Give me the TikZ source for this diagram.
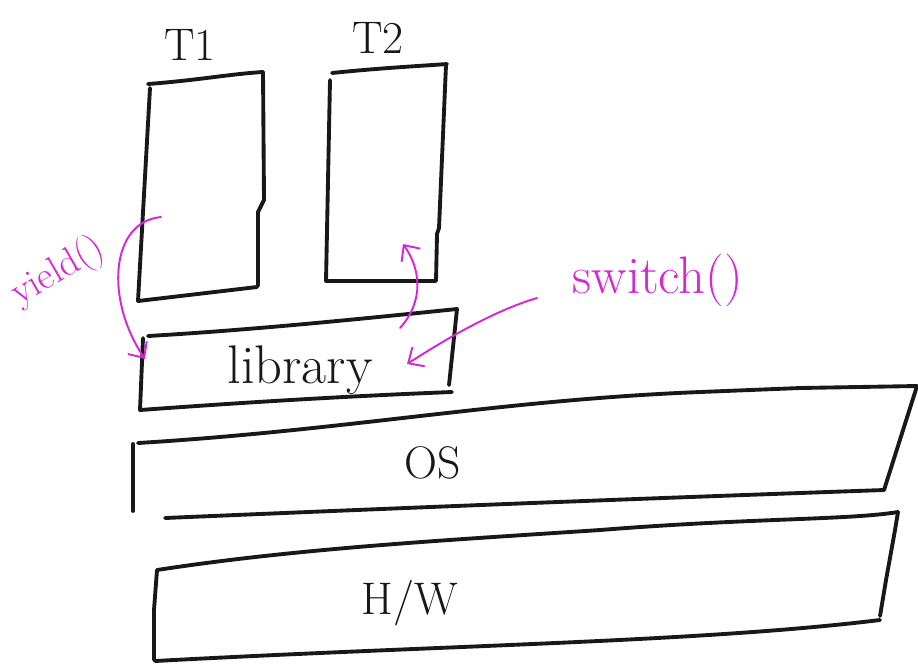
\documentclass[tikz,border=0pt]{standalone}
\usetikzlibrary{arrows.meta}
\definecolor{pen}{RGB}{24,24,24}
\definecolor{mag}{RGB}{214,38,214}
\begin{document}
\begin{tikzpicture}[x=0.02cm,y=-0.02cm,
  ink/.style={draw=pen,line width=2.2pt,line cap=round,line join=round},
  mk/.style={draw=mag,line width=1.1pt,line cap=round,line join=round,
    -{Straight Barb[length=7pt,width=13pt,line width=1.1pt]}},
  lbl/.style={text=pen,inner sep=0pt,font=\fontsize{26}{30}\selectfont},
  mlbl/.style={text=mag,inner sep=0pt}]
\useasboundingbox (0,0) rectangle (918,664);
% T1
\draw[ink] (148,84) .. controls (200,80) and (230,74) .. (263,72);
\draw[ink] (150,88) -- (138,301) -- (257,287);
\draw[ink] (263,72) -- (264,200) -- (258,212) -- (258,286);
% T2
\draw[ink] (332,73) .. controls (380,68) and (420,66) .. (447,64);
\draw[ink] (330,80) -- (326,281) -- (436,281) -- (437,234) -- (439,228) -- (446,65);
% library
\draw[ink] (148,336) .. controls (250,330) and (350,320) .. (457,309) -- (449,385);
\draw[ink] (143,338) -- (140,410) .. controls (250,402) and (350,396) .. (452,392);
% OS
\draw[ink] (138,443) .. controls (350,430) and (500,400) .. (700,392) -- (800,388) -- (917,386) -- (884,490);
\draw[ink] (884,490) .. controls (600,500) and (400,508) .. (165,518);
\draw[ink] (133,444) -- (133,511);
% H/W
\draw[ink] (157,570) .. controls (300,548) and (450,540) .. (600,530) .. controls (750,518) and (850,520) .. (898,512);
\draw[ink] (898,512) -- (895,530) -- (886,580) -- (880,616);
\draw[ink] (880,620) .. controls (700,642) and (450,645) .. (155,661);
\draw[ink] (157,570) -- (154,610) -- (154,660);
% labels
\node[lbl] (t1) at (190,45) {T1};
\node[lbl] (t2) at (378,38) {T2};
\node[lbl,font=\fontsize{31}{34}\selectfont] (lib) at (300,370) {library};
\node[lbl] (os) at (433,463) {OS};
\node[lbl] (hw) at (410,603) {H/W};
\node[mlbl,font=\fontsize{30}{34}\selectfont] (sw) at (658,280) {switch()};
\node[mlbl,font=\fontsize{22}{26}\selectfont,rotate=30] (yl) at (58,272) {yield()};
% arrows
\coordinate (ys) at (161,217);
\coordinate (ye) at (145,359);
\draw[mk] (ys) .. controls (110,222) and (105,300) .. (ye);
\coordinate (us) at (400,328);
\coordinate (ue) at (403,244);
\draw[mk] (us) .. controls (425,300) and (420,268) .. (ue);
\coordinate (ls) at (537,298);
\coordinate (le) at (407,364);
\draw[mk] (ls) .. controls (490,312) and (440,343) .. (le);
\end{tikzpicture}
\end{document}
